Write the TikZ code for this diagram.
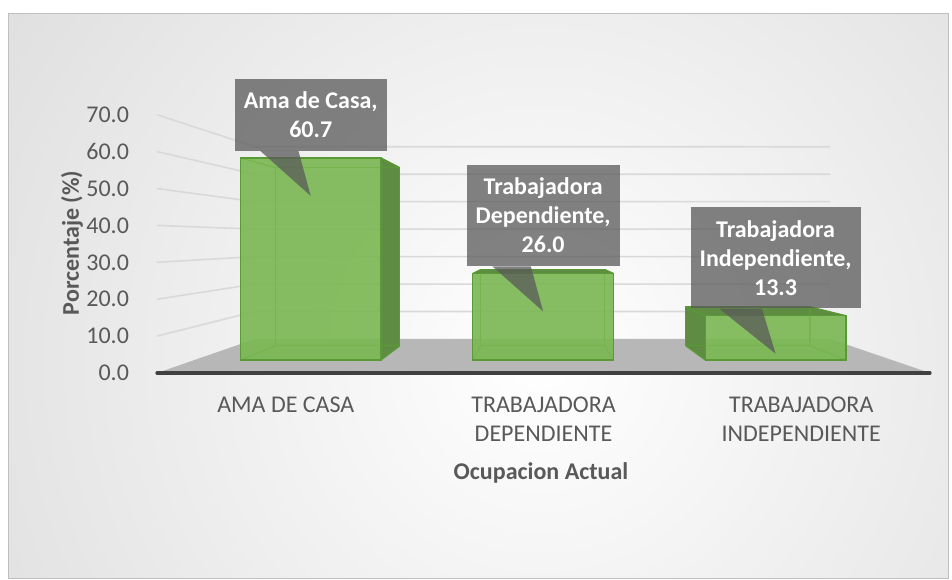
\documentclass[tikz,border=0pt]{standalone}
\usepackage{fontspec}
\setmainfont{Carlito}
\usepackage{tikz}
\usetikzlibrary{positioning,calc}

\definecolor{axisgray}{HTML}{595959}
\definecolor{gridgray}{HTML}{D9D9D9}
\definecolor{floorgray}{HTML}{B7B7B7}
\definecolor{axisdark}{HTML}{404040}
\definecolor{barfill}{HTML}{7AB752}
\definecolor{barshade}{HTML}{5F8C43}
\definecolor{baredge}{HTML}{5A9A35}
\definecolor{calloutgray}{HTML}{595959}

\newcommand{\chartfont}{\fontsize{12}{14.5}\selectfont}

% 3D bar: name, centre on the front edge of the floor, value
\newcommand{\occbar}[3]{%
  \coordinate (#1-fbl) at ($(vp)!0.902!(#2-78,373)$);
  \coordinate (#1-fbr) at ($(vp)!0.902!(#2+78,373)$);
  \coordinate (#1-ftl) at ($(vp)!0.902!(#2-78,373-3.69*#3)$);
  \coordinate (#1-ftr) at ($(vp)!0.902!(#2+78,373-3.69*#3)$);
  \coordinate (#1-bbl) at ($(vp)!0.796!(#2-78,373)$);
  \coordinate (#1-bbr) at ($(vp)!0.796!(#2+78,373)$);
  \coordinate (#1-btl) at ($(vp)!0.796!(#2-78,373-3.69*#3)$);
  \coordinate (#1-btr) at ($(vp)!0.796!(#2+78,373-3.69*#3)$);
  \begin{scope}[even odd rule]
    \clip (0,0) rectangle (952,579) (#1-fbl) rectangle (#1-ftr);
    \fill[barside] (#1-fbl) -- (#1-bbl) -- (#1-btl) -- (#1-ftl) -- cycle;
    \fill[barside] (#1-fbr) -- (#1-bbr) -- (#1-btr) -- (#1-ftr) -- cycle;
    \fill[barside] (#1-ftl) -- (#1-btl) -- (#1-btr) -- (#1-ftr) -- cycle;
  \end{scope}
  \draw[baredgeline] (#1-bbl) rectangle (#1-btr);
  \foreach \c in {bl,br,tl,tr}
    \draw[baredgeline] (#1-f\c) -- (#1-b\c);
  \filldraw[barfront] (#1-fbl) rectangle (#1-ftr);
  \coordinate (#1-tip) at ($(#1-ftl)!0.5!(#1-ftr)+(0,38)$);
}

\begin{document}
\begin{tikzpicture}[
    x=0.5pt, y=-0.5pt,
    tick/.style={anchor=east, text=axisgray, font=\chartfont},
    catlabel/.style={anchor=north, inner sep=0pt, align=center, text=axisgray, font=\chartfont},
    axistitle/.style={text=axisgray, font=\chartfont\bfseries},
    gridline/.style={draw=gridgray, line width=0.8pt},
    axisline/.style={draw=axisdark, line width=1.6pt, line cap=round},
    barfront/.style={fill=barfill, fill opacity=0.9, draw=baredge, line width=0.6pt},
    barside/.style={fill=barshade},
    baredgeline/.style={draw=baredge, line width=0.6pt},
    callout/.style={fill=calloutgray, fill opacity=0.75, text opacity=1, text=white,
      align=center, inner xsep=4.5pt, inner ysep=6.5pt, font=\chartfont\bfseries},
    pointer/.style={fill=calloutgray, fill opacity=0.75}
]
    \useasboundingbox (0,0) rectangle (952,579);
    \fill[white] (0,0) rectangle (952,579);

    % background
    \begin{scope}
        \clip (8,13) rectangle (948,578);
        \shade[inner color=white, outer color=black!24] (-700,-880) rectangle (1780,1600);
    \end{scope}
    \draw[black!25, line width=0.5pt] (8,13) rectangle (948,578);

    \coordinate (vp) at (540,240);

    % floor and walls
    \coordinate (floor-fl) at (157,373);
    \coordinate (floor-fr) at (930,373);
    \fill[floorgray] (floor-fl) -- ($(vp)!0.744!(floor-fl)$) -- ($(vp)!0.744!(floor-fr)$) -- (floor-fr) -- cycle;
    \foreach \v in {10,20,...,70}
        \draw[gridline] (157,373-3.69*\v) -- ($(vp)!0.744!(157,373-3.69*\v)$)
            -- ($(vp)!0.744!(930,373-3.69*\v)$);
    \draw[axisline] (floor-fl) -- (floor-fr);

    \foreach \v/\t in {0/0.0,10/10.0,20/20.0,30/30.0,40/40.0,50/50.0,60/60.0,70/70.0}
        \node[tick] (tick-\v) at (136,373-3.69*\v) {\t};

    % bars
    \occbar{ama}{285.8}{60.7}
    \occbar{dep}{543.5}{26.0}
    \occbar{ind}{801.2}{13.3}

    % data labels
    \node[callout, above=22.5pt of ama-tip] (ama-lbl) {Ama de Casa,\\60.7};
    \node[callout, above=22.5pt of dep-tip] (dep-lbl) {Trabajadora\\Dependiente,\\26.0};
    \node[callout, above=22.5pt of ind-tip] (ind-lbl) {Trabajadora\\Independiente,\\13.3};
    \foreach \b in {ama,dep,ind}
        \fill[pointer] ($(\b-lbl.south west)!0.17!(\b-lbl.south east)$)
            -- ($(\b-lbl.south west)!0.42!(\b-lbl.south east)$) -- (\b-tip) -- cycle;

    % categories and titles
    \node[catlabel] (cat-ama) at (285.8,397) {AMA DE CASA};
    \node[catlabel] (cat-dep) at (543.5,397) {TRABAJADORA\\DEPENDIENTE};
    \node[catlabel] (cat-ind) at (801.2,397) {TRABAJADORA\\INDEPENDIENTE};
    \node[axistitle, anchor=base] (xtitle) at (541,479) {Ocupacion Actual};
    \node[axistitle, rotate=90] (ytitle) at (72,243) {Porcentaje (\%)};
\end{tikzpicture}
\end{document}
